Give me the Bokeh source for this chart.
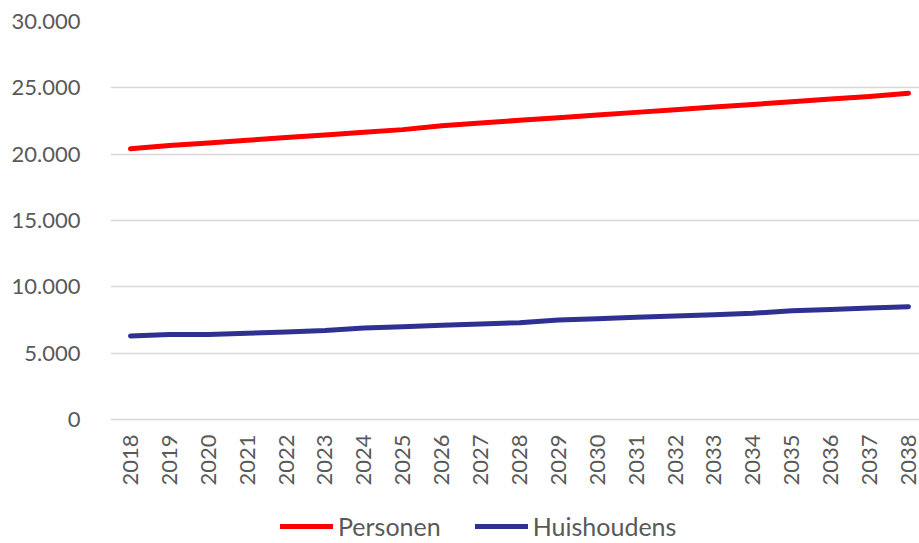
import math
from bokeh.plotting import figure
from bokeh.models import FixedTicker, Legend, LegendItem, Range1d
from bokeh.embed import file_html
from bokeh.resources import INLINE

years = list(range(2018, 2039))
personen = [20400, 20650, 20850, 21050, 21250, 21450, 21650, 21850, 22150, 22350, 22550,
            22750, 22950, 23150, 23350, 23550, 23750, 23950, 24150, 24350, 24600]
huishoudens = [6300, 6400, 6400, 6500, 6600, 6700, 6900, 7000, 7100, 7200, 7300,
               7500, 7600, 7700, 7800, 7900, 8000, 8200, 8300, 8400, 8500]
y_ticks = [0, 5000, 10000, 15000, 20000, 25000, 30000]
y_labels = ["0", "5.000", "10.000", "15.000", "20.000", "25.000", "30.000"]

FONT = "Lato"
GREY = "#595959"

# frame reaches the bottom of the window; the x axis is drawn at y = 0
p = figure(frame_width=809, frame_height=522, output_backend="svg", toolbar_location=None,
           x_range=Range1d(2017.486, 2038.283), y_range=Range1d(-9347, 30000),
           min_border_left=110, min_border_right=0, min_border_top=21, min_border_bottom=0)
p.outline_line_color = None
p.background_fill_color = "white"
p.border_fill_color = "white"

r1 = p.line(years, personen, line_color="#ff0000", line_width=5, line_cap="round", line_join="round")
r2 = p.line(years, huishoudens, line_color="#2e3192", line_width=5, line_cap="round", line_join="round")

p.yaxis.ticker = FixedTicker(ticks=y_ticks)
p.yaxis.major_label_overrides = {t: l for t, l in zip(y_ticks, y_labels)}
p.xaxis.ticker = FixedTicker(ticks=years)
p.xaxis.major_label_overrides = {y: str(y) for y in years}
p.xaxis.major_label_orientation = math.pi / 2
p.xaxis.fixed_location = 0

for ax in (p.xaxis, p.yaxis):
    ax.axis_line_color = None
    ax.major_tick_line_color = None
    ax.minor_tick_line_color = None
    ax.major_label_text_font = FONT
    ax.major_label_text_color = GREY
    ax.major_label_text_font_size = "22px"
p.yaxis.major_label_standoff = 24
p.xaxis.major_label_standoff = 9

p.xgrid.grid_line_color = None
p.ygrid.grid_line_color = "#d9d9d9"
p.ygrid.grid_line_width = 1.5

legend = Legend(items=[LegendItem(label="Personen", renderers=[r1]),
                       LegendItem(label="Huishoudens", renderers=[r2])],
                orientation="horizontal", location=(170, 2),
                label_text_font=FONT, label_text_color=GREY, label_text_font_size="25px",
                glyph_width=53, glyph_height=24, spacing=34, label_standoff=5,
                border_line_color=None, background_fill_alpha=0, padding=0, margin=0)
p.add_layout(legend, "center")

open("out.html", "w").write(file_html(p, INLINE))
